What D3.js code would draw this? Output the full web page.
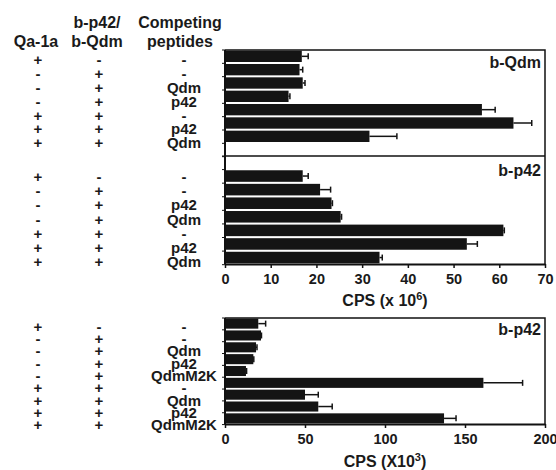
<!DOCTYPE html>
<html>
<head>
<meta charset="utf-8">
<script src="https://cdn.jsdelivr.net/npm/d3@7"></script>
<style>
  body { margin: 0; background: #fff; }
  text { font-family: "Liberation Sans", Arial, sans-serif; font-weight: bold; fill: #1a1a1a; }
</style>
</head>
<body>
<div id="chart"></div>
<script>
// ---- data ----
const qa1aTop = ['+', '-', '-', '-', '+', '+', '+'];
const bTagTop = ['-', '+', '+', '+', '+', '+', '+'];
const compQdmPanel = ['-', '-', 'Qdm', 'p42', '-', 'p42', 'Qdm'];
const compP42Panel = ['-', '-', 'p42', 'Qdm', '-', 'p42', 'Qdm'];

const bQdmValues = [16.8, 16.3, 17.0, 13.9, 56.2, 63.1, 31.6];
const bQdmErrors = [1.4, 0.7, 0.5, 0.3, 2.9, 4.0, 6.0];
const bP42Values = [17.0, 20.8, 23.3, 25.3, 60.9, 52.9, 33.8];
const bP42Errors = [1.2, 2.3, 0.2, 0.2, 0.2, 2.3, 0.6];
const topTicks = [0, 10, 20, 30, 40, 50, 60, 70];

const qa1aBottom = ['+', '-', '-', '-', '-', '+', '+', '+', '+'];
const bTagBottom = ['-', '+', '+', '+', '+', '+', '+', '+', '+'];
const compBottom = ['-', '-', 'Qdm', 'p42', 'QdmM2K', '-', 'Qdm', 'p42', 'QdmM2K'];
const bottomValues = [20.8, 22.5, 19.4, 17.7, 13.1, 161.5, 50.0, 58.3, 136.9];
const bottomErrors = [4.6, 0.3, 0.6, 0.3, 0.4, 24.5, 8.3, 8.7, 7.5];
const bottomTicks = [0, 50, 100, 150, 200];

const W = 556, H = 470;
const left = 225, right = 545;
const colX = [38, 99, 184];

const svg = d3.select('#chart').append('svg')
  .attr('width', W).attr('height', H);

// column headers
const headers = [
  { x: 36, lines: ['Qa-1a'] },
  { x: 97, lines: ['b-p42/', 'b-Qdm'] },
  { x: 180, lines: ['Competing', 'peptides'] }
];
headers.forEach(h => {
  h.lines.forEach((t, i) => {
    svg.append('text')
      .attr('x', h.x)
      .attr('y', 47 - (h.lines.length - 1 - i) * 19.5)
      .attr('text-anchor', 'middle')
      .style('font-size', '16px')
      .text(t);
  });
});

// draws one block of bars with error bars into band scale y
function drawBars(y, rows, values, errors, x) {
  const g = svg.append('g');
  const data = values.map((v, i) => ({ row: rows[i], v, e: errors[i] }));
  g.selectAll('rect').data(data).enter().append('rect')
    .attr('x', x(0))
    .attr('y', d => y(d.row))
    .attr('width', d => x(d.v) - x(0))
    .attr('height', y.bandwidth())
    .attr('fill', '#141414');
  g.selectAll('line.err').data(data).enter().append('line')
    .attr('class', 'err')
    .attr('x1', d => x(d.v)).attr('x2', d => x(d.v + d.e))
    .attr('y1', d => y(d.row) + y.bandwidth() / 2)
    .attr('y2', d => y(d.row) + y.bandwidth() / 2)
    .attr('stroke', '#141414').attr('stroke-width', 1.5);
  g.selectAll('line.cap').data(data).enter().append('line')
    .attr('class', 'cap')
    .attr('x1', d => x(d.v + d.e)).attr('x2', d => x(d.v + d.e))
    .attr('y1', d => y(d.row) + y.bandwidth() / 2 - 3)
    .attr('y2', d => y(d.row) + y.bandwidth() / 2 + 3)
    .attr('stroke', '#141414').attr('stroke-width', 1.5);
}

// row labels on the left
function drawLabels(yl, cols) {
  cols.forEach((labels, c) => {
    svg.append('g').selectAll('text').data(labels).enter().append('text')
      .attr('x', colX[c])
      .attr('y', (d, i) => yl(i))
      .attr('dy', '0.35em')
      .attr('text-anchor', 'middle')
      .style('font-size', '15px')
      .text(d => d);
  });
}

// left axis with small ticks at band edges
function leftAxis(y0, y1, edges) {
  svg.append('line')
    .attr('x1', left).attr('x2', left).attr('y1', y0).attr('y2', y1)
    .attr('stroke', '#111').attr('stroke-width', 2);
  svg.append('g').selectAll('line').data(edges).enter().append('line')
    .attr('x1', left - 3).attr('x2', left)
    .attr('y1', d => d).attr('y2', d => d)
    .attr('stroke', '#111').attr('stroke-width', 1);
}

function panelLabel(txt, yBase) {
  svg.append('text')
    .attr('x', 541).attr('y', yBase)
    .attr('text-anchor', 'end')
    .style('font-size', '16px')
    .text(txt);
}

function styleAxis(g) {
  g.select('.domain').attr('stroke', '#111').attr('stroke-width', 2);
  g.selectAll('.tick line').attr('stroke', '#111').attr('stroke-width', 1.5);
  g.selectAll('.tick text')
    .style('font-size', '14.5px')
    .style('font-family', '"Liberation Sans", Arial, sans-serif')
    .style('font-weight', 'bold')
    .attr('fill', '#1a1a1a');
}

// ---- top chart (b-Qdm over b-p42, shared x) ----
const top0 = 50, mid = 156, axisTop = 264;
const xTop = d3.scaleLinear().domain([0, 70]).range([left, right]);
const yQdm = d3.scaleBand().domain(d3.range(8)).range([top0, mid]).paddingInner(0.15).paddingOuter(0.05);
const yP42 = d3.scaleBand().domain(d3.range(8)).range([mid, axisTop]).paddingInner(0.15).paddingOuter(0.05);

drawBars(yQdm, d3.range(0, 7), bQdmValues, bQdmErrors, xTop);
drawBars(yP42, d3.range(1, 8), bP42Values, bP42Errors, xTop);

// frame
svg.append('path')
  .attr('d', `M${left},${top0}H${right}V${axisTop}`)
  .attr('fill', 'none').attr('stroke', '#111').attr('stroke-width', 1.5);
svg.append('line')
  .attr('x1', left).attr('x2', right).attr('y1', mid).attr('y2', mid)
  .attr('stroke', '#111').attr('stroke-width', 1.5);
leftAxis(top0, axisTop,
  d3.range(9).map(i => yQdm.step() * i + top0).concat(d3.range(9).map(i => yP42.step() * i + mid)));

const gxTop = svg.append('g')
  .attr('transform', `translate(0,${axisTop})`)
  .call(d3.axisBottom(xTop).tickValues(topTicks).tickSize(4).tickSizeOuter(0).tickPadding(6));
styleAxis(gxTop);

panelLabel('b-Qdm', 68);
panelLabel('b-p42', 176);

const t1 = svg.append('text')
  .attr('x', (left + right) / 2).attr('y', 306)
  .attr('text-anchor', 'middle')
  .style('font-size', '16px');
t1.append('tspan').text('CPS (x 10');
t1.append('tspan').attr('dy', -6).style('font-size', '11px').text('6');
t1.append('tspan').attr('dy', 6).text(')');

drawLabels(d3.scalePoint().domain(d3.range(7)).range([60, 143]),
  [qa1aTop, bTagTop, compQdmPanel]);
drawLabels(d3.scalePoint().domain(d3.range(7)).range([177, 261.5]),
  [qa1aTop, bTagTop, compP42Panel]);

// ---- bottom chart ----
const top2 = 318, axisBot = 424;
const xBot = d3.scaleLinear().domain([0, 200]).range([left, right]);
const yBot = d3.scaleBand().domain(d3.range(9)).range([top2, axisBot]).paddingInner(0.15).paddingOuter(0.05);

drawBars(yBot, d3.range(9), bottomValues, bottomErrors, xBot);

svg.append('path')
  .attr('d', `M${left},${top2}H${right}V${axisBot}`)
  .attr('fill', 'none').attr('stroke', '#111').attr('stroke-width', 1.5);
leftAxis(top2, axisBot, d3.range(10).map(i => yBot.step() * i + top2));

const gxBot = svg.append('g')
  .attr('transform', `translate(0,${axisBot})`)
  .call(d3.axisBottom(xBot).tickValues(bottomTicks).tickSize(4).tickSizeOuter(0).tickPadding(6));
styleAxis(gxBot);

panelLabel('b-p42', 335);

const t2 = svg.append('text')
  .attr('x', (left + right) / 2).attr('y', 467)
  .attr('text-anchor', 'middle')
  .style('font-size', '16px');
t2.append('tspan').text('CPS (X10');
t2.append('tspan').attr('dy', -6).style('font-size', '11px').text('3');
t2.append('tspan').attr('dy', 6).text(')');

drawLabels(d3.scalePoint().domain(d3.range(9)).range([326.5, 425]),
  [qa1aBottom, bTagBottom, compBottom]);
</script>
</body>
</html>
